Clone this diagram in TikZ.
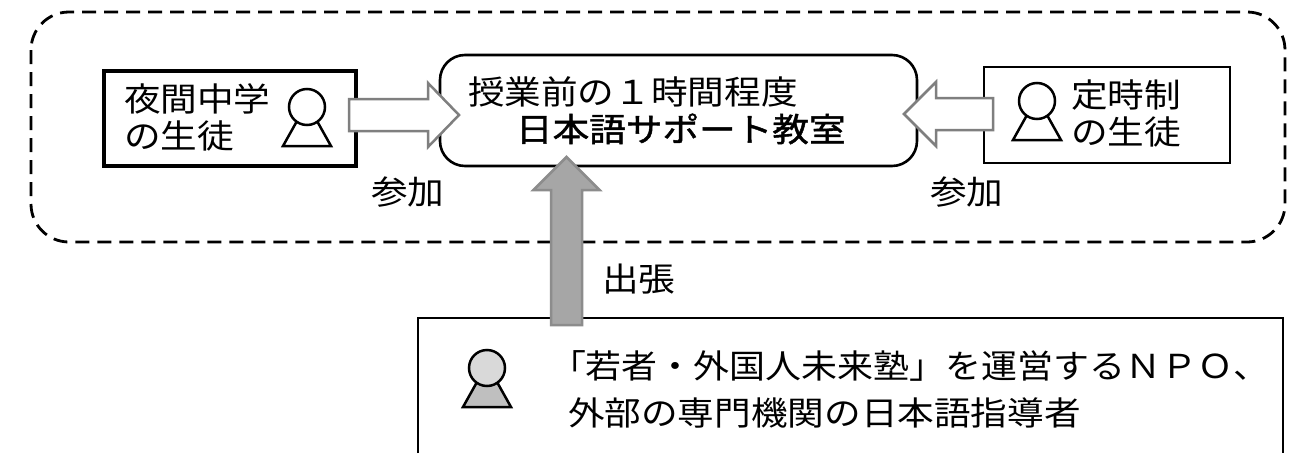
\documentclass[tikz,border=0pt]{standalone}
\usepackage{fontspec}
\setmainfont[FakeStretch=1.11]{Noto Sans CJK JP}
\newfontfamily\mediumface[FakeStretch=1.11,FakeBold=1.3]{Noto Sans CJK JP}
\newfontfamily\narrowface[FakeStretch=1.09]{Noto Sans CJK JP}
\usetikzlibrary{calc,shapes.geometric}
\definecolor{arrowline}{HTML}{7F7F7F}
\definecolor{uparrowfill}{HTML}{A6A6A6}
\definecolor{uparrowline}{HTML}{8C8C8C}
\definecolor{headfill}{HTML}{D9D9D9}
\definecolor{bodyfill}{HTML}{BFBFBF}
\tikzset{
  txt/.style={inner sep=0pt,outer sep=0pt,anchor=west,align=left,font=\fontsize{33}{37}\selectfont},
  sqbox/.style={draw,fill=white,rectangle,inner sep=0pt,outer sep=0pt},
  head/.style={draw,circle,minimum size=36pt,inner sep=0pt,line width=2.5pt},
  fatline/.style={draw=arrowline,fill=white,line width=2.5pt,line join=miter},
}
% tail, tip, shaft half width, head half width, head length, style
\newcommand\fatarrow[6]{%
  \coordinate (neck) at ($(#2)!#5!(#1)$);
  \draw[#6] ($(#1)!#3!90:(#2)$) -- ($(neck)!#3!90:(#2)$) -- ($(neck)!#4!90:(#2)$) -- (#2)
    -- ($(neck)!#4!-90:(#2)$) -- ($(neck)!#3!-90:(#2)$) -- ($(#1)!#3!-90:(#2)$) -- cycle;
}
% name, x, y, head fill, body fill
\newcommand\persona[5]{%
  \draw[line width=2.5pt,line join=miter,fill=#5] (#2-10,#3+14) -- (#2-24,#3+39) -- (#2+24,#3+39) -- (#2+10,#3+14) -- cycle;
  \node[head,fill=#4] (#1) at (#2,#3) {};
}
\begin{document}
\begin{tikzpicture}[x=1pt,y=-1pt]
\useasboundingbox (0,0) rectangle (1294,453);
\fill[white] (0,0) rectangle (1294,453);
% dashed frame
\draw[line width=2.8pt,dash pattern=on 14pt off 8pt,rounded corners=38pt] (31,12) rectangle (1285,242);
% boxes
\node[sqbox,line width=4pt,minimum width=252pt,minimum height=95pt] (night) at (229.5,118.5) {};
\node[sqbox,line width=1.5pt,minimum width=246pt,minimum height=96pt] (parttime) at (1107,115) {};
\node[sqbox,line width=2.6pt,rounded corners=25pt,minimum width=477pt,minimum height=111pt,
      text width=421pt,align=left,font=\fontsize{33}{37}\selectfont] (class) at (678.5,110.5)
      {授業前の１時間程度\\\hspace*{48pt}{\mediumface 日本語サポート教室}};
% bottom box (cut off by the page edge)
\draw[line width=1.5pt] (418,453) -- (418,318) -- (1283,318) -- (1283,453);
\coordinate (npotop) at (566.5,325);
% persons
\persona{pa}{307}{107}{white}{white}
\persona{pb}{1037}{101}{white}{white}
\persona{pc}{487}{368}{headfill}{bodyfill}
% texts
\node[txt] (ta) at (124,117.5) {夜間中学\\の生徒};
\node[txt] (tb) at (1071,113.5) {定時制\\の生徒};
\node[txt] (ja) at (371,192) {参加};
\node[txt] (jb) at (930,192) {参加};
\node[txt] (trip) at (602,279) {出張};
\node[txt] (npo) at (550,389.5) {{\narrowface 「若者・外国人未来塾」を運営するＮＰＯ、}\\[10pt]\hspace*{18pt}外部の専門機関の日本語指導者};
% arrows
\coordinate (atail) at (349,115);
\coordinate (atip) at (459,115);
\coordinate (btail) at (993,114);
\coordinate (btip) at (904,114);
\coordinate (ctip) at (566.5,157);
\fatarrow{atail}{atip}{16pt}{32pt}{31pt}{fatline}
\fatarrow{btail}{btip}{16pt}{32pt}{32pt}{fatline}
\fatarrow{npotop}{ctip}{15.5pt}{33pt}{33pt}{draw=uparrowline,fill=uparrowfill,line width=2.5pt}
\end{tikzpicture}
\end{document}
